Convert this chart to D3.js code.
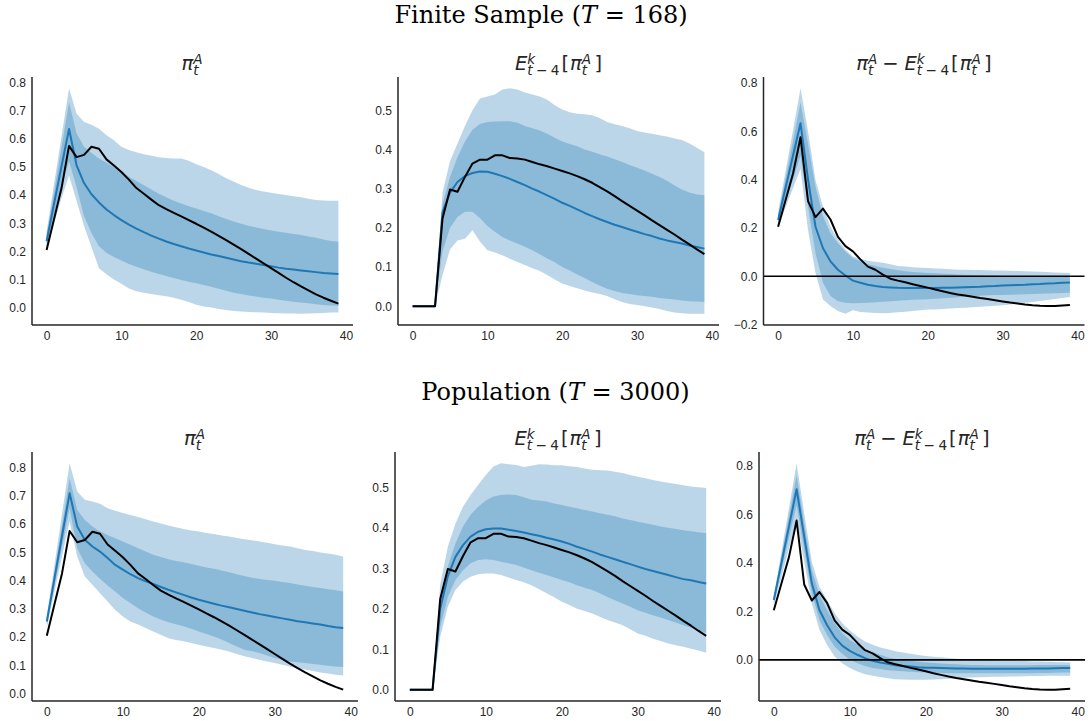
<!DOCTYPE html>
<html>
<head>
<meta charset="utf-8">
<script src="https://cdn.jsdelivr.net/npm/d3@7"></script>
<style>
  html, body { margin: 0; padding: 0; background: #ffffff; }
  svg { display: block; }
</style>
</head>
<body>
<svg id="fig" width="1090" height="721"></svg>
<script>
// ---------------------------------------------------------------
// Impulse responses, horizons 0..39
// ---------------------------------------------------------------
const horizons = [0,1,2,3,4,5,6,7,8,9,10,11,12,13,14,15,16,17,18,19,
                  20,21,22,23,24,25,26,27,28,29,30,31,32,33,34,35,36,37,38,39];

// observed responses (black), shared by both rows
const obsPi = [0.205,0.315,0.425,0.575,0.535,0.543,0.572,0.565,0.527,0.505,
               0.482,0.455,0.425,0.405,0.384,0.364,0.350,0.337,0.324,0.311,
               0.298,0.284,0.270,0.255,0.240,0.224,0.208,0.191,0.174,0.157,
               0.140,0.123,0.106,0.090,0.075,0.061,0.047,0.035,0.024,0.014];
const obsE  = [0,0,0,0,0.224,0.298,0.292,0.330,0.364,0.374,
               0.374,0.385,0.385,0.378,0.377,0.374,0.368,0.362,0.357,0.351,
               0.345,0.339,0.332,0.324,0.315,0.304,0.293,0.281,0.268,0.256,
               0.244,0.232,0.219,0.207,0.195,0.183,0.170,0.158,0.145,0.133];
const obsGap = [0.205,0.315,0.425,0.575,0.311,0.245,0.280,0.235,0.163,0.125,
                0.103,0.070,0.040,0.027,0.007,-0.010,-0.018,-0.025,-0.033,-0.040,
                -0.047,-0.055,-0.062,-0.069,-0.075,-0.080,-0.085,-0.090,-0.094,-0.099,
                -0.104,-0.109,-0.113,-0.117,-0.120,-0.122,-0.123,-0.123,-0.121,-0.119];

// finite sample (T = 168): median, 68% and 90% bands
const fsPiMed  = [0.236,0.370,0.503,0.635,0.507,0.443,0.403,0.374,0.349,0.329,
                  0.311,0.295,0.281,0.268,0.256,0.245,0.235,0.226,0.218,0.210,
                  0.203,0.196,0.189,0.183,0.177,0.171,0.165,0.160,0.156,0.151,
                  0.147,0.142,0.138,0.135,0.132,0.129,0.126,0.123,0.121,0.119];
const fsPiHi90 = [0.270,0.440,0.610,0.780,0.690,0.660,0.650,0.636,0.613,0.595,
                  0.572,0.560,0.552,0.545,0.540,0.535,0.532,0.530,0.530,0.522,
                  0.510,0.500,0.488,0.475,0.460,0.448,0.436,0.426,0.418,0.413,
                  0.408,0.404,0.400,0.396,0.392,0.387,0.383,0.381,0.380,0.380];
const fsPiHi68 = [0.255,0.410,0.570,0.730,0.620,0.572,0.550,0.530,0.515,0.500,
                  0.485,0.465,0.450,0.435,0.420,0.405,0.392,0.380,0.370,0.360,
                  0.352,0.343,0.335,0.325,0.315,0.306,0.298,0.291,0.285,0.279,
                  0.274,0.270,0.266,0.262,0.258,0.253,0.248,0.242,0.237,0.234];
const fsPiLo68 = [0.225,0.330,0.430,0.520,0.430,0.325,0.265,0.218,0.195,0.180,
                  0.167,0.155,0.145,0.136,0.127,0.119,0.112,0.105,0.098,0.092,
                  0.086,0.080,0.074,0.067,0.060,0.053,0.048,0.043,0.039,0.035,
                  0.032,0.028,0.024,0.021,0.018,0.015,0.012,0.009,0.007,0.006];
const fsPiLo90 = [0.215,0.300,0.390,0.470,0.380,0.290,0.215,0.140,0.118,0.100,
                  0.085,0.068,0.058,0.053,0.048,0.044,0.040,0.035,0.028,0.020,
                  0.010,0.004,0.000,-0.005,-0.009,-0.012,-0.014,-0.016,-0.017,-0.018,
                  -0.019,-0.020,-0.021,-0.021,-0.022,-0.021,-0.020,-0.019,-0.018,-0.018];

const fsEMed  = [0,0,0,0,0.240,0.290,0.317,0.332,0.340,0.344,
                 0.343,0.338,0.332,0.325,0.317,0.309,0.300,0.292,0.283,0.274,
                 0.264,0.256,0.247,0.238,0.230,0.222,0.215,0.208,0.202,0.196,
                 0.190,0.184,0.179,0.173,0.168,0.164,0.160,0.155,0.151,0.147];
const fsEHi90 = [0,0,0,0,0.290,0.370,0.415,0.460,0.500,0.530,
                 0.535,0.540,0.553,0.556,0.553,0.545,0.540,0.535,0.527,0.513,
                 0.502,0.495,0.491,0.490,0.487,0.480,0.470,0.464,0.460,0.454,
                 0.447,0.443,0.440,0.436,0.433,0.428,0.424,0.415,0.404,0.393];
const fsEHi68 = [0,0,0,0,0.260,0.330,0.380,0.420,0.450,0.465,
                 0.470,0.471,0.472,0.472,0.468,0.460,0.454,0.448,0.440,0.430,
                 0.420,0.414,0.408,0.400,0.394,0.388,0.382,0.375,0.368,0.360,
                 0.353,0.346,0.338,0.330,0.320,0.308,0.298,0.290,0.285,0.283];
const fsELo68 = [0,0,0,0,0.140,0.200,0.228,0.241,0.241,0.225,
                 0.205,0.190,0.177,0.168,0.160,0.152,0.143,0.133,0.122,0.112,
                 0.100,0.091,0.081,0.072,0.062,0.053,0.045,0.039,0.034,0.031,
                 0.028,0.026,0.024,0.021,0.019,0.017,0.015,0.013,0.012,0.011];
const fsELo90 = [0,0,0,0,0.080,0.145,0.168,0.172,0.194,0.165,
                 0.143,0.137,0.130,0.121,0.113,0.105,0.097,0.090,0.080,0.068,
                 0.058,0.052,0.046,0.040,0.035,0.031,0.026,0.018,0.011,0.006,
                 0.003,0.000,-0.003,-0.007,-0.012,-0.016,-0.018,-0.019,-0.019,-0.019];

const fsGapMed  = [0.233,0.366,0.500,0.633,0.400,0.205,0.116,0.062,0.027,0.003,
                   -0.018,-0.027,-0.035,-0.040,-0.044,-0.046,-0.048,-0.049,-0.049,-0.049,
                   -0.049,-0.049,-0.048,-0.047,-0.046,-0.045,-0.044,-0.043,-0.041,-0.040,
                   -0.038,-0.037,-0.036,-0.035,-0.033,-0.032,-0.030,-0.029,-0.027,-0.026];
const fsGapHi90 = [0.265,0.435,0.605,0.778,0.600,0.397,0.288,0.205,0.151,0.110,
                   0.082,0.072,0.064,0.060,0.056,0.050,0.043,0.040,0.037,0.035,
                   0.034,0.032,0.031,0.029,0.027,0.027,0.026,0.026,0.025,0.024,
                   0.024,0.023,0.022,0.021,0.020,0.019,0.018,0.016,0.015,0.014];
const fsGapHi68 = [0.250,0.405,0.560,0.719,0.548,0.370,0.247,0.178,0.137,0.103,
                   0.075,0.062,0.050,0.042,0.035,0.030,0.025,0.021,0.018,0.016,
                   0.014,0.012,0.010,0.009,0.007,0.006,0.005,0.004,0.003,0.002,
                   0.001,0.000,0.000,-0.001,-0.001,-0.002,-0.002,-0.003,-0.003,-0.003];
const fsGapLo68 = [0.220,0.310,0.400,0.500,0.288,0.096,-0.027,-0.082,-0.103,-0.110,
                   -0.112,-0.111,-0.110,-0.108,-0.105,-0.103,-0.101,-0.099,-0.097,-0.096,
                   -0.095,-0.093,-0.091,-0.089,-0.087,-0.085,-0.083,-0.081,-0.079,-0.078,
                   -0.077,-0.076,-0.075,-0.074,-0.073,-0.072,-0.071,-0.070,-0.069,-0.068];
const fsGapLo90 = [0.205,0.285,0.365,0.445,0.192,0.014,-0.096,-0.123,-0.144,-0.155,
                   -0.141,-0.148,-0.150,-0.152,-0.153,-0.152,-0.149,-0.147,-0.144,-0.141,
                   -0.138,-0.137,-0.135,-0.133,-0.131,-0.130,-0.128,-0.126,-0.124,-0.122,
                   -0.120,-0.117,-0.114,-0.110,-0.106,-0.102,-0.098,-0.094,-0.090,-0.086];

// population (T = 3000): median, 68% and 90% bands
const popPiMed  = [0.255,0.406,0.557,0.708,0.591,0.544,0.520,0.502,0.479,0.455,
                   0.438,0.422,0.408,0.397,0.388,0.377,0.367,0.358,0.349,0.340,
                   0.332,0.325,0.318,0.311,0.305,0.299,0.293,0.287,0.281,0.276,
                   0.271,0.266,0.261,0.256,0.252,0.248,0.244,0.239,0.235,0.232];
const popPiHi90 = [0.275,0.455,0.635,0.814,0.714,0.685,0.679,0.671,0.655,0.646,
                   0.638,0.631,0.624,0.616,0.608,0.601,0.594,0.588,0.582,0.577,
                   0.573,0.568,0.564,0.559,0.555,0.550,0.546,0.542,0.538,0.533,
                   0.528,0.524,0.520,0.514,0.508,0.504,0.499,0.495,0.491,0.485];
const popPiHi68 = [0.265,0.430,0.595,0.761,0.649,0.614,0.591,0.573,0.561,0.549,
                   0.538,0.526,0.514,0.502,0.491,0.483,0.475,0.469,0.464,0.458,
                   0.452,0.446,0.441,0.435,0.429,0.422,0.416,0.410,0.405,0.402,
                   0.399,0.395,0.391,0.386,0.381,0.377,0.373,0.369,0.365,0.361];
const popPiLo68 = [0.243,0.380,0.518,0.655,0.514,0.461,0.432,0.406,0.382,0.361,
                   0.338,0.320,0.302,0.287,0.273,0.262,0.252,0.245,0.238,0.229,
                   0.220,0.211,0.202,0.191,0.179,0.167,0.155,0.150,0.144,0.135,
                   0.126,0.120,0.114,0.111,0.108,0.105,0.102,0.099,0.096,0.094];
const popPiLo90 = [0.235,0.360,0.485,0.608,0.485,0.414,0.385,0.355,0.326,0.296,
                   0.273,0.255,0.244,0.232,0.220,0.208,0.196,0.190,0.185,0.179,
                   0.173,0.167,0.161,0.155,0.149,0.140,0.132,0.126,0.120,0.114,
                   0.108,0.102,0.096,0.090,0.085,0.080,0.075,0.071,0.067,0.064];

const popEMed  = [0,0,0,0,0.200,0.280,0.328,0.357,0.378,0.390,
                  0.396,0.398,0.398,0.395,0.392,0.388,0.384,0.380,0.375,0.371,
                  0.366,0.360,0.353,0.347,0.341,0.334,0.328,0.322,0.316,0.310,
                  0.304,0.298,0.293,0.288,0.283,0.278,0.273,0.270,0.266,0.262];
const popEHi90 = [0,0,0,0,0.260,0.353,0.410,0.452,0.481,0.506,
                  0.530,0.551,0.559,0.557,0.555,0.550,0.553,0.557,0.556,0.554,
                  0.554,0.552,0.550,0.546,0.543,0.542,0.541,0.538,0.535,0.530,
                  0.526,0.522,0.518,0.514,0.511,0.508,0.505,0.502,0.500,0.498];
const popEHi68 = [0,0,0,0,0.230,0.304,0.361,0.403,0.432,0.452,
                  0.467,0.477,0.481,0.482,0.481,0.475,0.469,0.467,0.465,0.460,
                  0.456,0.452,0.448,0.444,0.440,0.436,0.432,0.428,0.423,0.419,
                  0.415,0.411,0.407,0.403,0.400,0.397,0.394,0.391,0.389,0.386];
const popELo68 = [0,0,0,0,0.155,0.229,0.271,0.295,0.312,0.320,
                  0.322,0.320,0.316,0.312,0.308,0.302,0.295,0.289,0.283,0.277,
                  0.271,0.265,0.258,0.252,0.246,0.238,0.229,0.221,0.213,0.205,
                  0.196,0.190,0.184,0.178,0.172,0.166,0.159,0.153,0.147,0.140];
const popELo90 = [0,0,0,0,0.130,0.205,0.246,0.267,0.279,0.285,
                  0.287,0.287,0.283,0.277,0.271,0.265,0.258,0.248,0.238,0.228,
                  0.217,0.209,0.200,0.194,0.188,0.180,0.172,0.166,0.159,0.149,
                  0.139,0.133,0.126,0.120,0.114,0.110,0.106,0.101,0.097,0.091];

const popGapMed  = [0.247,0.400,0.552,0.704,0.509,0.316,0.206,0.144,0.093,0.059,
                    0.037,0.021,0.007,-0.004,-0.011,-0.016,-0.022,-0.025,-0.027,-0.030,
                    -0.032,-0.033,-0.034,-0.035,-0.036,-0.036,-0.037,-0.037,-0.037,-0.037,
                    -0.037,-0.037,-0.037,-0.037,-0.036,-0.036,-0.036,-0.035,-0.034,-0.034];
const popGapHi90 = [0.265,0.445,0.628,0.811,0.605,0.405,0.302,0.247,0.192,0.151,
                    0.121,0.096,0.076,0.062,0.051,0.044,0.036,0.030,0.025,0.020,
                    0.016,0.013,0.011,0.008,0.005,0.004,0.003,0.001,0.000,-0.001,
                    -0.003,-0.003,-0.004,-0.005,-0.007,-0.007,-0.008,-0.009,-0.010,-0.011];
const popGapHi68 = [0.257,0.425,0.594,0.763,0.564,0.371,0.268,0.206,0.151,0.110,
                    0.082,0.062,0.044,0.030,0.021,0.011,0.004,0.000,-0.004,-0.008,
                    -0.011,-0.013,-0.015,-0.017,-0.018,-0.020,-0.021,-0.021,-0.022,-0.022,
                    -0.022,-0.022,-0.022,-0.022,-0.022,-0.021,-0.021,-0.021,-0.021,-0.021];
const popGapLo68 = [0.235,0.370,0.505,0.639,0.454,0.275,0.165,0.103,0.055,0.025,
                    0.000,-0.014,-0.025,-0.034,-0.038,-0.043,-0.045,-0.047,-0.049,-0.051,
                    -0.052,-0.053,-0.054,-0.055,-0.055,-0.055,-0.055,-0.055,-0.055,-0.055,
                    -0.055,-0.055,-0.055,-0.055,-0.055,-0.054,-0.054,-0.053,-0.052,-0.052];
const popGapLo90 = [0.225,0.343,0.460,0.577,0.405,0.234,0.124,0.062,0.014,-0.014,
                    -0.034,-0.048,-0.059,-0.066,-0.071,-0.076,-0.080,-0.081,-0.082,-0.082,
                    -0.082,-0.081,-0.080,-0.078,-0.076,-0.074,-0.073,-0.072,-0.071,-0.070,
                    -0.070,-0.069,-0.069,-0.068,-0.067,-0.067,-0.066,-0.066,-0.065,-0.065];

// tick values
const xTicks = [0, 10, 20, 30, 40];
const yTicksPi = [0, 0.1, 0.2, 0.3, 0.4, 0.5, 0.6, 0.7, 0.8];
const yTicksE = [0, 0.1, 0.2, 0.3, 0.4, 0.5];
const yTicksGapFs = [-0.2, 0, 0.2, 0.4, 0.6, 0.8];
const yTicksGapPop = [0, 0.2, 0.4, 0.6, 0.8];

// row headings: plain text, math variable, remainder
const rowTitles = [
  ["Finite Sample (", "T", " = 168)"],
  ["Population (", "T", " = 3000)"]
];

// panel headings as math tokens; a run is [text, italic, space before (em), space after (em)]
const piTok = { b: ["π", true], sup: [["A", true]], sub: [["t", true]] };
const eTok  = { b: ["E", true], sup: [["k", true]], sub: [["t", true], ["−", false, 0.25, 0.25], ["4", false]] };
const lbr = { b: ["[", false, 0.05, 0.05] };
const rbr = { b: ["]", false, 0.12, 0] };
const minusTok = { b: ["−", false, 0.2, 0.3] };
const titlePi  = [piTok];
const titleE   = [eTok, lbr, piTok, rbr];
const titleGap = [piTok, minusTok, eTok, lbr, piTok, rbr];

// ---------------------------------------------------------------
// Figure layout and styling
// ---------------------------------------------------------------
const C0 = "#1f77b4";
const TXT = "#262626";
const TICK_FONT = "'Liberation Sans', Arial, sans-serif";
const MATH_FONT = "'DejaVu Sans', sans-serif";
const SERIF_FONT = "'DejaVu Serif', serif";
const TITLE_SIZE = 19.5;

const rows = [
  { heading: rowTitles[0], supX: 541, supY: 23, top: 77, bottom: 325, lefts: [32, 398, 763.5], width: 321,
    panels: [
      { title: titlePi,  med: fsPiMed,  lo90: fsPiLo90,  lo68: fsPiLo68,  hi68: fsPiHi68,  hi90: fsPiHi90,  obs: obsPi,  yTicks: yTicksPi,    zero: false },
      { title: titleE,   med: fsEMed,   lo90: fsELo90,   lo68: fsELo68,   hi68: fsEHi68,   hi90: fsEHi90,   obs: obsE,   yTicks: yTicksE,     zero: false },
      { title: titleGap, med: fsGapMed, lo90: fsGapLo90, lo68: fsGapLo68, hi68: fsGapHi68, hi90: fsGapHi90, obs: obsGap, yTicks: yTicksGapFs, zero: true }
    ] },
  { heading: rowTitles[1], supX: 555.5, supY: 400, top: 452, bottom: 701, lefts: [32, 395, 759], width: 326,
    panels: [
      { title: titlePi,  med: popPiMed,  lo90: popPiLo90,  lo68: popPiLo68,  hi68: popPiHi68,  hi90: popPiHi90,  obs: obsPi,  yTicks: yTicksPi,     zero: false },
      { title: titleE,   med: popEMed,   lo90: popELo90,   lo68: popELo68,   hi68: popEHi68,   hi90: popEHi90,   obs: obsE,   yTicks: yTicksE,      zero: false },
      { title: titleGap, med: popGapMed, lo90: popGapLo90, lo68: popGapLo68, hi68: popGapHi68, hi90: popGapHi90, obs: obsGap, yTicks: yTicksGapPop, zero: true }
    ] }
];

const svg = d3.select("#fig");
svg.append("rect").attr("width", 1090).attr("height", 721).attr("fill", "#ffffff");

const fmtTick = d3.format(".1f");

// measures a run of text in the math font
const probe = svg.append("text").attr("font-family", MATH_FONT).attr("x", -1000).attr("y", -1000);
function measure(s, it, size) {
  probe.attr("font-size", size).attr("font-style", it ? "italic" : "normal").text(s);
  return probe.node().getComputedTextLength();
}

// lays out a math expression as one text element, centred on cx, baseline y
function drawMath(parent, tokens, cx, y, fs) {
  const pieces = [];
  const small = fs * 0.7;
  let x = 0;
  // places a sequence of runs at size/baseline starting from x0, returns the end x
  const place = (runs, size, yy, x0) => {
    let xx = x0;
    runs.forEach(([s, it, before = 0, after = 0]) => {
      xx += before * size;
      pieces.push({ s, it, size, x: xx, y: yy });
      xx += measure(s, it, size) + after * size;
    });
    return xx;
  };
  tokens.forEach(tok => {
    x = place([tok.b], fs, y, x);
    if (tok.sup || tok.sub) {
      const e1 = tok.sup ? place(tok.sup, small, y - fs * 0.33, x) : x;
      const e2 = tok.sub ? place(tok.sub, small, y + fs * 0.28, x) : x;
      x = Math.max(e1, e2) + fs * 0.05;
    }
  });
  const x0 = cx - x / 2;
  const t = parent.append("text")
    .attr("font-family", MATH_FONT).attr("fill", TXT);
  pieces.forEach(p => {
    t.append("tspan")
      .attr("x", x0 + p.x).attr("y", p.y)
      .attr("font-size", p.size)
      .attr("font-style", p.it ? "italic" : "normal")
      .text(p.s);
  });
}

rows.forEach(row => {
  // row heading with an italic math variable
  const st = svg.append("text")
    .attr("x", row.supX).attr("y", row.supY)
    .attr("text-anchor", "middle")
    .attr("font-family", SERIF_FONT).attr("font-size", 24)
    .attr("fill", "#000");
  st.append("tspan").text(row.heading[0]);
  st.append("tspan").attr("font-style", "italic").text(row.heading[1]);
  st.append("tspan").text(row.heading[2]);

  row.panels.forEach((p, i) => {
    const left = row.lefts[i];
    const right = left + row.width;
    const x = d3.scaleLinear().domain([-1.95, 40.95]).range([left, right]);

    // autoscale with 5% margins over everything drawn
    const all = [].concat(p.lo90, p.hi90, p.lo68, p.hi68, p.med, p.obs);
    const lo = d3.min(all), hi = d3.max(all), pad = (hi - lo) * 0.05;
    const y = d3.scaleLinear().domain([lo - pad, hi + pad]).range([row.bottom, row.top]);

    const g = svg.append("g");

    const band = (a, b) => d3.area()
      .x((d, k) => x(horizons[k]))
      .y0((d, k) => y(a[k]))
      .y1((d, k) => y(b[k]))(horizons);

    g.append("path").attr("d", band(p.lo90, p.hi90))
      .attr("fill", C0).attr("fill-opacity", 0.3);
    g.append("path").attr("d", band(p.lo68, p.hi68))
      .attr("fill", C0).attr("fill-opacity", 0.3);

    const line = d3.line().x((d, k) => x(horizons[k])).y(d => y(d));
    g.append("path").attr("d", line(p.med))
      .attr("fill", "none").attr("stroke", C0).attr("stroke-width", 2)
      .attr("stroke-linejoin", "round");
    g.append("path").attr("d", line(p.obs))
      .attr("fill", "none").attr("stroke", "#000").attr("stroke-width", 2)
      .attr("stroke-linejoin", "round");

    if (p.zero) {
      g.append("line")
        .attr("x1", left).attr("x2", right)
        .attr("y1", y(0)).attr("y2", y(0))
        .attr("stroke", "#000").attr("stroke-width", 1.6);
    }

    // axes: only left and bottom spines, no tick marks
    const yAxis = d3.axisLeft(y).tickValues(p.yTicks).tickFormat(fmtTick).tickSize(0).tickPadding(6);
    const xAxis = d3.axisBottom(x).tickValues(xTicks).tickFormat(d3.format("d")).tickSize(0).tickPadding(6);

    const ya = svg.append("g").attr("transform", `translate(${left},0)`).call(yAxis);
    const xa = svg.append("g").attr("transform", `translate(0,${row.bottom})`).call(xAxis);
    [ya, xa].forEach(a => {
      a.select(".domain").remove();
      a.selectAll("text")
        .attr("font-family", TICK_FONT).attr("font-size", 12).attr("fill", TXT);
    });

    svg.append("line").attr("x1", left).attr("x2", left)
      .attr("y1", row.top).attr("y2", row.bottom)
      .attr("stroke", TXT).attr("stroke-width", 1.5);
    svg.append("line").attr("x1", left).attr("x2", right)
      .attr("y1", row.bottom).attr("y2", row.bottom)
      .attr("stroke", TXT).attr("stroke-width", 1.5);

    drawMath(svg, p.title, (left + right) / 2, row.top - 7, TITLE_SIZE);
  });
});

probe.remove();
</script>
</body>
</html>
